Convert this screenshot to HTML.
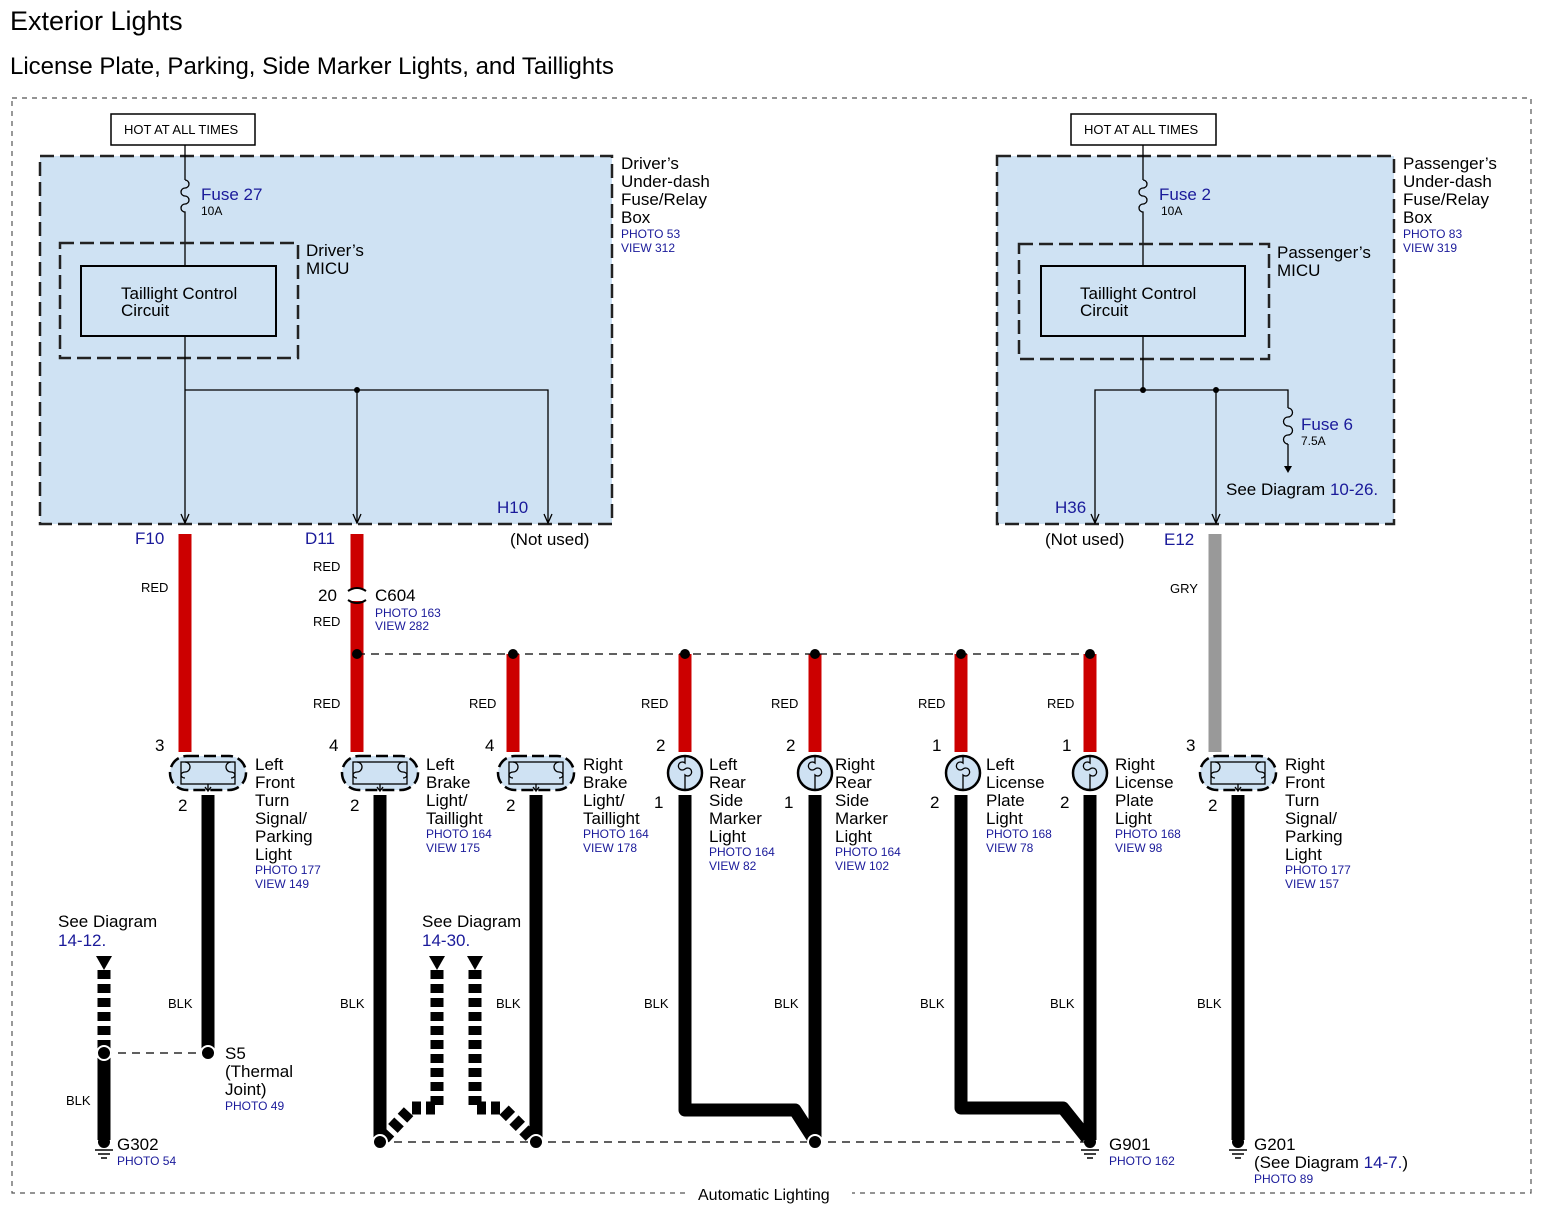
<!DOCTYPE html>
<html><head><meta charset="utf-8"><style>
html,body{margin:0;padding:0;background:#fff;}
svg{display:block;font-family:"Liberation Sans",sans-serif;}
.b{fill:#1a1a9a;font-size:12px}
.t{fill:#000;font-size:17px}
.w{fill:#000;font-size:13px}
.n{fill:#000;font-size:16px}
</style></head><body>
<svg width="1542" height="1214" viewBox="0 0 1542 1214" xmlns="http://www.w3.org/2000/svg">
<defs>
<g id="dbl">
<rect x="-38" y="-17" width="76" height="34" rx="17" fill="#cfe2f3" stroke="#000" stroke-width="2.5" stroke-dasharray="12,5"/>
<rect x="-27" y="-11" width="54" height="22" fill="none" stroke="#000" stroke-width="1.3"/>
<path d="M-23,-11 a5,5 0 1 1 0,10 a4,3 0 1 0 0,6 M23,-11 a5,5 0 1 0 0,10 a4,3 0 1 1 0,6" fill="none" stroke="#000" stroke-width="1.3"/>
<path d="M0,11 v6 M-3,14 l3,4 l3,-4" fill="none" stroke="#000" stroke-width="1.3"/>
</g>
<g id="sgl">
<circle r="17" fill="#cfe2f3" stroke="#000" stroke-width="2.5"/>
<path d="M0,-17 v7 a4,4 0 1 0 0,6 a4,4 0 1 1 0,6 v15" fill="none" stroke="#000" stroke-width="1.3"/>
</g>
<g id="gnd">
<circle r="6" fill="#000"/>
<path d="M-9,8 h18 M-6,12 h12 M-3,16 h6" stroke="#000" stroke-width="1.5"/>
</g>
</defs>

<text x="10" y="30" font-size="27" fill="#000">Exterior Lights</text>
<text x="10" y="74" font-size="24" fill="#000">License Plate, Parking, Side Marker Lights, and Taillights</text>
<rect x="12" y="98" width="1519" height="1095" fill="none" stroke="#555" stroke-width="1.2" stroke-dasharray="5,5"/>
<rect x="690" y="1184" width="162" height="20" fill="#fff"/>
<text x="698" y="1200" class="n">Automatic Lighting</text>

<!-- Left box -->
<rect x="111" y="114" width="144" height="31" fill="#fff" stroke="#000" stroke-width="1.5"/>
<text x="124" y="134" font-size="13">HOT AT ALL TIMES</text>
<rect x="40" y="156" width="572" height="368" fill="#cfe2f3" stroke="#222" stroke-width="2.5" stroke-dasharray="14,6"/>
<path d="M185,145 V180 M185,216 V266" stroke="#000" stroke-width="1.3"/>
<path d="M185,180 a4,4 0 1 1 0,8 a4,4 0 1 0 0,8 a4,4 0 1 1 0,8 a4,4 0 1 0 0,8 v4" fill="none" stroke="#000" stroke-width="1.3"/>
<text x="201" y="200" font-size="17" fill="#1a1a9a">Fuse 27</text>
<text x="201" y="215" font-size="12">10A</text>
<rect x="60" y="243" width="238" height="115" fill="none" stroke="#222" stroke-width="2.5" stroke-dasharray="14,6"/>
<rect x="81" y="266" width="195" height="70" fill="none" stroke="#000" stroke-width="2"/>
<text x="121" y="299" class="t">Taillight Control</text>
<text x="121" y="316" class="t">Circuit</text>
<text x="306" y="256" class="t">Driver’s</text>
<text x="306" y="274" class="t">MICU</text>
<text x="621" y="169" class="t">Driver’s</text>
<text x="621" y="187" class="t">Under-dash</text>
<text x="621" y="205" class="t">Fuse/Relay</text>
<text x="621" y="223" class="t">Box</text>
<text x="621" y="238" class="b">PHOTO 53</text>
<text x="621" y="252" class="b">VIEW 312</text>
<path d="M185,336 V523 M185,390 H548 V523 M357,390 V523" fill="none" stroke="#000" stroke-width="1.3"/>
<path d="M181,514 L185,523 L189,514 M353,514 L357,523 L361,514 M544,514 L548,523 L552,514" fill="none" stroke="#000" stroke-width="1.3"/>
<circle cx="357" cy="390" r="3" fill="#000"/>
<text x="135" y="544" font-size="17" fill="#1a1a9a">F10</text>
<text x="305" y="544" font-size="17" fill="#1a1a9a">D11</text>
<text x="497" y="513" font-size="17" fill="#1a1a9a">H10</text>
<text x="510" y="545" class="t">(Not used)</text>

<!-- Right box -->
<rect x="1071" y="114" width="145" height="31" fill="#fff" stroke="#000" stroke-width="1.5"/>
<text x="1084" y="134" font-size="13">HOT AT ALL TIMES</text>
<rect x="997" y="156" width="397" height="368" fill="#cfe2f3" stroke="#222" stroke-width="2.5" stroke-dasharray="14,6"/>
<path d="M1143,145 V180 M1143,216 V266" stroke="#000" stroke-width="1.3"/>
<path d="M1143,180 a4,4 0 1 1 0,8 a4,4 0 1 0 0,8 a4,4 0 1 1 0,8 a4,4 0 1 0 0,8 v4" fill="none" stroke="#000" stroke-width="1.3"/>
<text x="1159" y="200" font-size="17" fill="#1a1a9a">Fuse 2</text>
<text x="1161" y="215" font-size="12">10A</text>
<rect x="1019" y="244" width="250" height="115" fill="none" stroke="#222" stroke-width="2.5" stroke-dasharray="14,6"/>
<rect x="1041" y="266" width="204" height="70" fill="none" stroke="#000" stroke-width="2"/>
<text x="1080" y="299" class="t">Taillight Control</text>
<text x="1080" y="316" class="t">Circuit</text>
<text x="1277" y="258" class="t">Passenger’s</text>
<text x="1277" y="276" class="t">MICU</text>
<text x="1403" y="169" class="t">Passenger’s</text>
<text x="1403" y="187" class="t">Under-dash</text>
<text x="1403" y="205" class="t">Fuse/Relay</text>
<text x="1403" y="223" class="t">Box</text>
<text x="1403" y="238" class="b">PHOTO 83</text>
<text x="1403" y="252" class="b">VIEW 319</text>
<path d="M1143,336 V390 M1095,523 V390 H1288 V408 M1288,444 V470 M1216,390 V523" fill="none" stroke="#000" stroke-width="1.3"/>
<path d="M1288,408 a4,4 0 1 1 0,9 a4,4 0 1 0 0,9 a4,4 0 1 1 0,9 a4,4 0 1 0 0,9" fill="none" stroke="#000" stroke-width="1.3"/>
<path d="M1284,466 L1288,473 L1292,466 Z" fill="#000"/>
<path d="M1091,514 L1095,523 L1099,514 M1212,514 L1216,523 L1220,514" fill="none" stroke="#000" stroke-width="1.3"/>
<circle cx="1143" cy="390" r="3" fill="#000"/>
<circle cx="1216" cy="390" r="3" fill="#000"/>
<text x="1301" y="430" font-size="17" fill="#1a1a9a">Fuse 6</text>
<text x="1301" y="445" font-size="12">7.5A</text>
<text x="1226" y="495" class="t">See Diagram <tspan fill="#1a1a9a">10-26.</tspan></text>
<text x="1055" y="513" font-size="17" fill="#1a1a9a">H36</text>
<text x="1164" y="545" font-size="17" fill="#1a1a9a">E12</text>
<text x="1045" y="545" class="t">(Not used)</text>

<!-- red wires -->
<g stroke="#cc0000" stroke-width="13">
<path d="M185,534 V752"/>
<path d="M357,534 V752"/>
<path d="M513,654 V752"/>
<path d="M685,654 V752"/>
<path d="M815,654 V752"/>
<path d="M961,654 V752"/>
<path d="M1090,654 V752"/>
</g>
<path d="M1215,534 V752" stroke="#999" stroke-width="13"/>
<!-- C604 -->
<rect x="349" y="589" width="16" height="12" fill="#fff"/>
<path d="M348,591 q9,-6 18,0 M348,600 q9,6 18,0" fill="none" stroke="#000" stroke-width="2"/>
<text x="318" y="601" class="t">20</text>
<text x="375" y="601" class="t">C604</text>
<text x="375" y="617" class="b">PHOTO 163</text>
<text x="375" y="630" class="b">VIEW 282</text>
<!-- splice dashed -->
<path d="M357,654 H1090" stroke="#000" stroke-width="1.3" stroke-dasharray="8,6"/>
<g fill="#000"><circle cx="357" cy="654" r="5"/><circle cx="513" cy="654" r="5"/><circle cx="685" cy="654" r="5"/><circle cx="815" cy="654" r="5"/><circle cx="961" cy="654" r="5"/><circle cx="1090" cy="654" r="5"/></g>
<g class="w">
<text x="141" y="592">RED</text><text x="313" y="571">RED</text><text x="313" y="626">RED</text>
<text x="313" y="708">RED</text><text x="469" y="708">RED</text><text x="641" y="708">RED</text>
<text x="771" y="708">RED</text><text x="918" y="708">RED</text><text x="1047" y="708">RED</text>
<text x="1170" y="593">GRY</text>
<text x="168" y="1008">BLK</text><text x="340" y="1008">BLK</text><text x="496" y="1008">BLK</text>
<text x="644" y="1008">BLK</text><text x="774" y="1008">BLK</text><text x="920" y="1008">BLK</text>
<text x="1050" y="1008">BLK</text><text x="1197" y="1008">BLK</text><text x="66" y="1105">BLK</text>
</g>

<!-- black wires -->
<g stroke="#000" stroke-width="13" fill="none" stroke-linejoin="round">
<path d="M208,795 V1050"/>
<path d="M104,1053 V1140"/>
<path d="M380,795 V1140"/>
<path d="M536,795 V1140"/>
<path d="M685,795 V1110 H795 L813,1138"/>
<path d="M815,795 V1140"/>
<path d="M961,795 V1108 H1063 L1087,1138"/>
<path d="M1090,795 V1140"/>
<path d="M1238,795 V1140"/>
</g>
<g stroke="#000" stroke-width="13" fill="none" stroke-dasharray="9,5">
<path d="M104,970 V1053"/>
<path d="M437,970 V1108 H412 L384,1138"/>
<path d="M475,970 V1108 H502 L532,1138"/>
</g>
<g fill="#000">
<path d="M96,956 h16 l-8,14 z"/><path d="M429,956 h16 l-8,14 z"/><path d="M467,956 h16 l-8,14 z"/>
</g>
<path d="M104,1053 H208" stroke="#000" stroke-width="1.3" stroke-dasharray="8,6"/>
<circle cx="104" cy="1053" r="7" fill="#000" stroke="#fff" stroke-width="2"/>
<circle cx="208" cy="1053" r="7" fill="#000" stroke="#fff" stroke-width="2"/>
<path d="M380,1142 H1090" stroke="#000" stroke-width="1.3" stroke-dasharray="8,6"/>
<g fill="#000" stroke="#fff" stroke-width="2">
<circle cx="380" cy="1142" r="7"/><circle cx="536" cy="1142" r="7"/><circle cx="815" cy="1142" r="7"/>
</g>
<use href="#gnd" x="104" y="1142"/>
<use href="#gnd" x="1090" y="1142"/>
<use href="#gnd" x="1238" y="1142"/>

<!-- bulbs -->
<use href="#dbl" x="208" y="773"/>
<use href="#dbl" x="380" y="773"/>
<use href="#dbl" x="536" y="773"/>
<use href="#dbl" x="1238" y="773"/>
<use href="#sgl" x="685" y="773"/>
<use href="#sgl" x="815" y="773"/>
<use href="#sgl" x="963" y="773"/>
<use href="#sgl" x="1090" y="773"/>

<g class="t">
<text x="155" y="751">3</text><text x="178" y="811">2</text>
<text x="329" y="751">4</text><text x="350" y="811">2</text>
<text x="485" y="751">4</text><text x="506" y="811">2</text>
<text x="656" y="751">2</text><text x="654" y="808">1</text>
<text x="786" y="751">2</text><text x="784" y="808">1</text>
<text x="932" y="751">1</text><text x="930" y="808">2</text>
<text x="1062" y="751">1</text><text x="1060" y="808">2</text>
<text x="1186" y="751">3</text><text x="1208" y="811">2</text>
</g>
<g class="t">
<text x="255" y="770">Left</text><text x="255" y="788">Front</text><text x="255" y="806">Turn</text><text x="255" y="824">Signal/</text><text x="255" y="842">Parking</text><text x="255" y="860">Light</text>
<text x="426" y="770">Left</text><text x="426" y="788">Brake</text><text x="426" y="806">Light/</text><text x="426" y="824">Taillight</text>
<text x="583" y="770">Right</text><text x="583" y="788">Brake</text><text x="583" y="806">Light/</text><text x="583" y="824">Taillight</text>
<text x="709" y="770">Left</text><text x="709" y="788">Rear</text><text x="709" y="806">Side</text><text x="709" y="824">Marker</text><text x="709" y="842">Light</text>
<text x="835" y="770">Right</text><text x="835" y="788">Rear</text><text x="835" y="806">Side</text><text x="835" y="824">Marker</text><text x="835" y="842">Light</text>
<text x="986" y="770">Left</text><text x="986" y="788">License</text><text x="986" y="806">Plate</text><text x="986" y="824">Light</text>
<text x="1115" y="770">Right</text><text x="1115" y="788">License</text><text x="1115" y="806">Plate</text><text x="1115" y="824">Light</text>
<text x="1285" y="770">Right</text><text x="1285" y="788">Front</text><text x="1285" y="806">Turn</text><text x="1285" y="824">Signal/</text><text x="1285" y="842">Parking</text><text x="1285" y="860">Light</text>
</g>
<g class="b">
<text x="255" y="874">PHOTO 177</text><text x="255" y="888">VIEW 149</text>
<text x="426" y="838">PHOTO 164</text><text x="426" y="852">VIEW 175</text>
<text x="583" y="838">PHOTO 164</text><text x="583" y="852">VIEW 178</text>
<text x="709" y="856">PHOTO 164</text><text x="709" y="870">VIEW 82</text>
<text x="835" y="856">PHOTO 164</text><text x="835" y="870">VIEW 102</text>
<text x="986" y="838">PHOTO 168</text><text x="986" y="852">VIEW 78</text>
<text x="1115" y="838">PHOTO 168</text><text x="1115" y="852">VIEW 98</text>
<text x="1285" y="874">PHOTO 177</text><text x="1285" y="888">VIEW 157</text>
</g>
<text x="58" y="927" class="t">See Diagram</text>
<text x="58" y="946" class="t" style="fill:#1a1a9a">14-12.</text>
<text x="422" y="927" class="t">See Diagram</text>
<text x="422" y="946" class="t" style="fill:#1a1a9a">14-30.</text>
<text x="225" y="1059" class="t">S5</text>
<text x="225" y="1077" class="t">(Thermal</text>
<text x="225" y="1095" class="t">Joint)</text>
<text x="225" y="1110" class="b">PHOTO 49</text>
<text x="117" y="1150" class="t">G302</text>
<text x="117" y="1165" class="b">PHOTO 54</text>
<text x="1109" y="1150" class="t">G901</text>
<text x="1109" y="1165" class="b">PHOTO 162</text>
<text x="1254" y="1150" class="t">G201</text>
<text x="1254" y="1168" class="t">(See Diagram <tspan style="fill:#1a1a9a">14-7.</tspan>)</text>
<text x="1254" y="1183" class="b">PHOTO 89</text>
</svg>
</body></html>
